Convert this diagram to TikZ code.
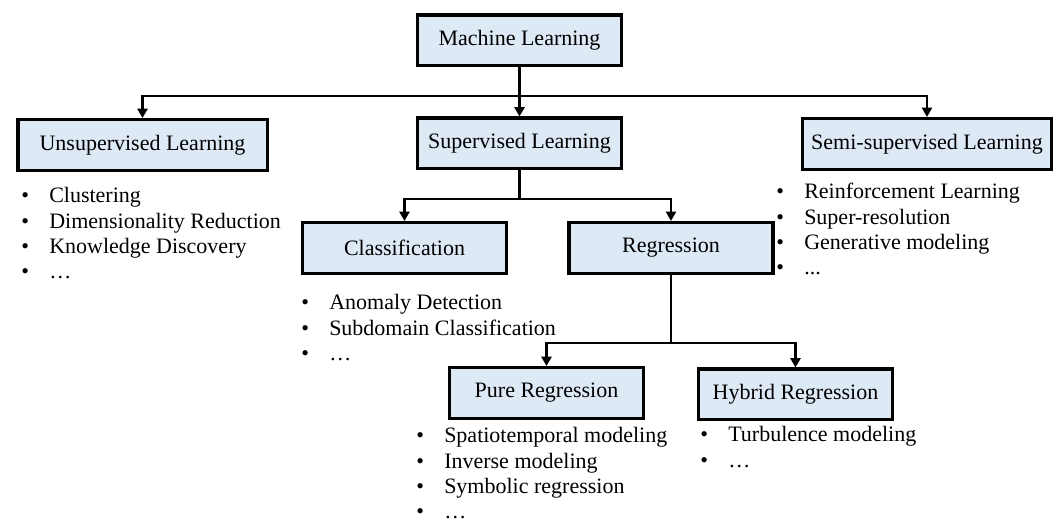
\documentclass[tikz,border=0pt]{standalone}
\usepackage{fontspec}
\setmainfont{Liberation Serif}
\usetikzlibrary{arrows.meta}

\definecolor{boxfill}{RGB}{222,233,246}

% bullet item with a fixed gap before its text
\newcommand\itm{\makebox[21pt][l]{\textbullet}}
\newcommand\listfont{\fontsize{16.5pt}{19pt}\selectfont}
% bulleted list whose baseline is that of its first line
\newcommand\itemlist[1]{\begin{tabular}[t]{@{}l@{}}#1\end{tabular}}

\begin{document}
\begin{tikzpicture}[x=0.75pt, y=-0.75pt,
  cat/.style={draw=black, line width=2.5pt, fill=boxfill, inner sep=0pt,
              minimum height=38pt, font=\fontsize{16.5pt}{19pt}\selectfont},
  narrow/.style={cat, minimum width=152.8pt},
  wide/.style={cat, minimum width=187pt},
  small/.style={cat, minimum width=145.3pt},
  link/.style={line width=2.2pt},
  arr/.style={link, -{Triangle[width=7.5pt,length=7pt]}},
  items/.style={anchor=base west, inner sep=0pt, font=\listfont}]

\useasboundingbox (0,0) rectangle (1057,523);

% category boxes
\node[narrow] (ml)    at (519.5,40.5) {Machine Learning};
\node[narrow] (sup)   at (519.5,143.5) {Supervised Learning};
\node[wide]   (unsup) at (142.5,145) {Unsupervised Learning};
\node[wide]   (semi)  at (927,144) {Semi-supervised Learning};
\node[narrow] (cls)   at (404.5,248) {Classification};
\node[narrow] (reg)   at (671,248) {Regression};
\node[small]  (pure)  at (546.5,393) {Pure Regression};
\node[small]  (hyb)   at (795.5,394.5) {Hybrid Regression};

% branching points of the tree
\coordinate (bus1) at (519.5,96);
\coordinate (bus2) at (519.5,199);
\coordinate (bus3) at (671,343);

% connectors
\draw[arr] (ml.south) -- (sup.north);
\draw[arr] (ml.south) |- (bus1) -| (unsup.north);
\draw[arr] (ml.south) |- (bus1) -| (semi.north);
\draw[arr] (sup.south) |- (bus2) -| (cls.north);
\draw[arr] (sup.south) |- (bus2) -| (reg.north);
\draw[arr] (reg.south) |- (bus3) -| (pure.north);
\draw[arr] (reg.south) |- (bus3) -| (hyb.north);

% example lists
\node[items] (unsuplist) at (21,203) {\itemlist{%
  \itm Clustering\\
  \itm Dimensionality Reduction\\
  \itm Knowledge Discovery\\
  \itm …}};
\node[items] (semilist) at (776,199) {\itemlist{%
  \itm Reinforcement Learning\\
  \itm Super-resolution\\
  \itm Generative modeling\\
  \itm ...}};
\node[items] (clslist) at (301,310) {\itemlist{%
  \itm Anomaly Detection\\
  \itm Subdomain Classification\\
  \itm …}};
\node[items] (purelist) at (416,443) {\itemlist{%
  \itm Spatiotemporal modeling\\
  \itm Inverse modeling\\
  \itm Symbolic regression\\
  \itm …}};
\node[items] (hyblist) at (700,442) {\itemlist{%
  \itm Turbulence modeling\\
  \itm …}};
\end{tikzpicture}
\end{document}
